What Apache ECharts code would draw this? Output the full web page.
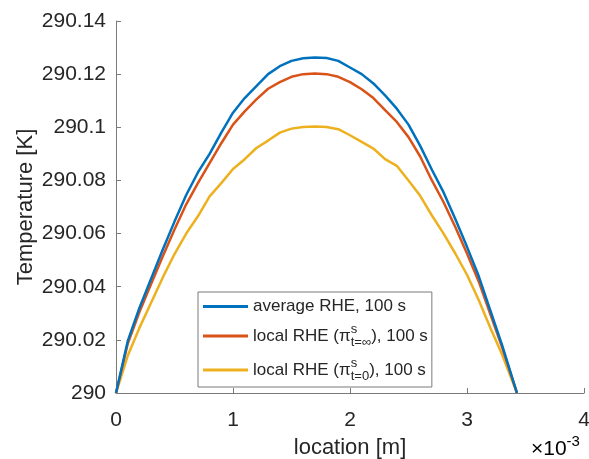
<!DOCTYPE html>
<html>
<head>
<meta charset="utf-8">
<script src="https://cdn.jsdelivr.net/npm/echarts@6/dist/echarts.min.js"></script>
<style>html,body{margin:0;padding:0;background:#fff}#c{width:589px;height:459px}</style>
</head>
<body>
<div id="c"></div>
<script>
// location in units of 1e-3 m
const locations = [0, 0.1, 0.2, 0.3, 0.4, 0.5, 0.6, 0.7, 0.8, 0.9, 1.0, 1.1, 1.2, 1.3, 1.4, 1.5, 1.6, 1.7, 1.8, 1.9, 2.0, 2.1, 2.2, 2.3, 2.4, 2.5, 2.6, 2.7, 2.8, 2.9, 3.0, 3.1, 3.2, 3.3, 3.427];
const averageRHE = [290, 290.0195, 290.032, 290.043, 290.054, 290.0645, 290.0745, 290.083, 290.090, 290.098, 290.1055, 290.111, 290.1155, 290.120, 290.123, 290.125, 290.126, 290.1263, 290.1261, 290.125, 290.1225, 290.120, 290.1165, 290.112, 290.107, 290.101, 290.093, 290.084, 290.0755, 290.0655, 290.055, 290.044, 290.031, 290.018, 290];
const localRHEinf = [290, 290.0185, 290.0305, 290.041, 290.0515, 290.0615, 290.071, 290.079, 290.0865, 290.094, 290.101, 290.106, 290.1105, 290.1145, 290.117, 290.119, 290.120, 290.1202, 290.120, 290.119, 290.117, 290.1143, 290.111, 290.1065, 290.102, 290.0963, 290.089, 290.080, 290.0718, 290.0625, 290.0525, 290.042, 290.0296, 290.0172, 290];
const localRHE0 = [290, 290.014, 290.0245, 290.034, 290.0435, 290.0523, 290.060, 290.0665, 290.074, 290.079, 290.0843, 290.088, 290.0922, 290.095, 290.098, 290.0995, 290.1001, 290.1003, 290.1001, 290.0993, 290.097, 290.0945, 290.092, 290.088, 290.0855, 290.080, 290.0742, 290.0668, 290.060, 290.0525, 290.0445, 290.035, 290.0245, 290.0145, 290];
const seriesNames = ['average RHE, 100 s', 'local RHE (inf), 100 s', 'local RHE (0), 100 s'];
const xTicks = [0, 1, 2, 3, 4];
const yTicks = [290, 290.02, 290.04, 290.06, 290.08, 290.1, 290.12, 290.14];

const FONT = "'Liberation Sans', Arial, Helvetica, sans-serif";
const TXT = '#262626';
const AX = '#7a7a7a';
const pair = ys => locations.map((x, i) => [x, ys[i]]);

const chart = echarts.init(document.getElementById('c'));
chart.setOption({
  animation: false,
  backgroundColor: '#fff',
  textStyle: { fontFamily: FONT },
  grid: { left: 116, top: 21, right: 5, bottom: 66, containLabel: false, outerBoundsMode: 'none' },
  xAxis: {
    type: 'value', min: xTicks[0], max: xTicks[xTicks.length - 1], interval: 1,
    name: 'location [m]', nameLocation: 'middle', nameGap: 44, nameMoveOverlap: false,
    nameTextStyle: { fontSize: 22, color: TXT, fontFamily: FONT },
    axisLine: { onZero: false, lineStyle: { color: AX, width: 1 } },
    axisTick: { inside: true, length: 5, lineStyle: { color: AX } },
    axisLabel: { fontSize: 21, color: TXT, margin: 17, fontFamily: FONT, formatter: v => String(v) },
    splitLine: { show: false }
  },
  yAxis: {
    type: 'value', min: yTicks[0], max: yTicks[yTicks.length - 1], interval: 0.02,
    name: 'Temperature [K]', nameLocation: 'middle', nameGap: 79, nameMoveOverlap: false,
    nameTextStyle: { fontSize: 22, color: TXT, fontFamily: FONT },
    axisLine: { show: true, lineStyle: { color: AX, width: 1 } },
    axisTick: { show: true, inside: true, length: 5, lineStyle: { color: AX } },
    axisLabel: { fontSize: 21, color: TXT, margin: 10, fontFamily: FONT,
      formatter: v => String(parseFloat((+v).toFixed(2))) },
    splitLine: { show: false }
  },
  legend: {
    orient: 'vertical', left: 198, top: 292,
    padding: [6, 4, 4, 5], itemGap: 8,
    itemWidth: 45, itemHeight: 3, icon: 'rect',
    backgroundColor: '#fff', borderColor: AX, borderWidth: 1, borderRadius: 0,
    data: seriesNames,
    formatter: name => {
      if (name === seriesNames[0]) return '{n|average RHE, 100 s}';
      if (name === seriesNames[1]) return '{m|local RHE (π}{sup|s}{sub|t=∞}{m|), 100 s}';
      return '{m|local RHE (π}{sup|s}{sub|t=0}{m|), 100 s}';
    },
    textStyle: {
      fontSize: 17, color: TXT, fontFamily: FONT,
      rich: {
        n: { fontSize: 17, lineHeight: 16, color: TXT, fontFamily: FONT },
        m: { fontSize: 17, lineHeight: 26, color: TXT, fontFamily: FONT },
        sup: { fontSize: 13, lineHeight: 14, verticalAlign: 'top', width: 0, color: TXT, fontFamily: FONT },
        sub: { fontSize: 13, lineHeight: 10, verticalAlign: 'bottom', color: TXT, fontFamily: FONT }
      }
    }
  },
  graphic: [{
    type: 'text', left: 531, top: 434,
    style: {
      text: '{a|×10}{b|-3}',
      rich: {
        a: { fontSize: 21, color: TXT, fontFamily: FONT, verticalAlign: 'bottom', lineHeight: 26 },
        b: { fontSize: 15, color: TXT, fontFamily: FONT, verticalAlign: 'top', lineHeight: 16 }
      }
    }
  }],
  series: [
    { name: seriesNames[0], type: 'line', data: pair(averageRHE), symbol: 'none', color: '#0072BD', lineStyle: { width: 2.5, color: '#0072BD' }, z: 3 },
    { name: seriesNames[1], type: 'line', data: pair(localRHEinf), symbol: 'none', color: '#D95319', lineStyle: { width: 2.5, color: '#D95319' }, z: 2 },
    { name: seriesNames[2], type: 'line', data: pair(localRHE0), symbol: 'none', color: '#EDB120', lineStyle: { width: 2.5, color: '#EDB120' }, z: 1 }
  ]
});
</script>
</body>
</html>
